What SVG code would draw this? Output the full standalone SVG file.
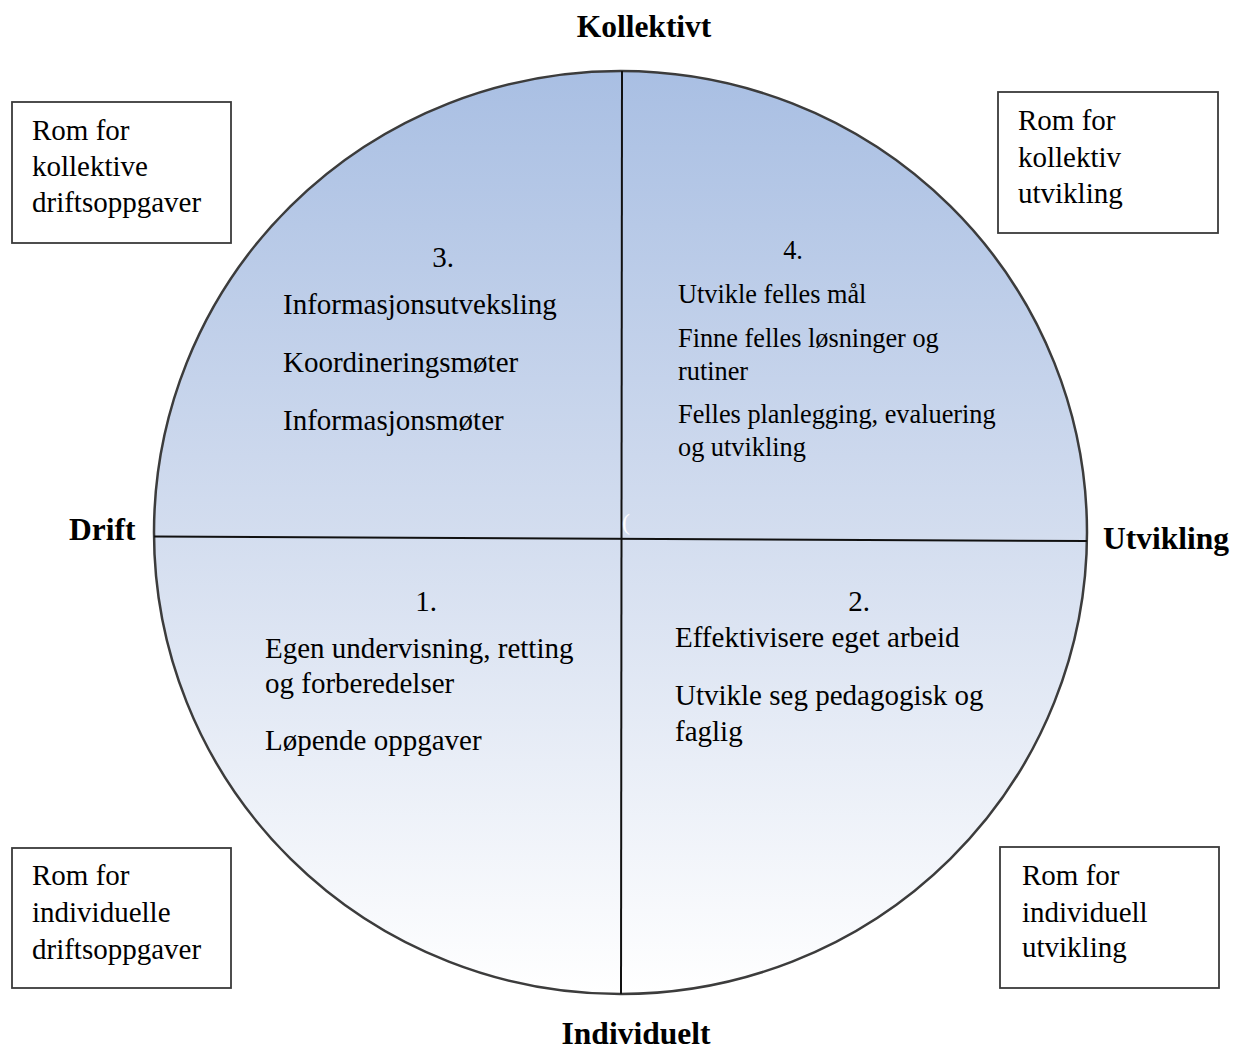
<svg xmlns="http://www.w3.org/2000/svg" width="1235" height="1051" viewBox="0 0 1235 1051">
<style>
text{font-family:"Liberation Serif","Times New Roman",serif;fill:#000}
.t{font-size:29px}
.s{font-size:26.3px}
.b{font-size:31.5px;font-weight:bold}
.box{fill:#fff;stroke:#3a3a3a;stroke-width:1.8}
.ax{stroke:#111;stroke-width:2;fill:none}
</style>
<defs>
<linearGradient id="g" x1="0" y1="0" x2="0" y2="1">
<stop offset="0" stop-color="#a9bfe3"/>
<stop offset="0.5" stop-color="#d3ddef"/>
<stop offset="1" stop-color="#ffffff"/>
</linearGradient>
</defs>
<rect width="1235" height="1051" fill="#fff"/>
<g id="circle">
<ellipse cx="620.5" cy="532.5" rx="466.5" ry="461.5" fill="url(#g)" stroke="#3c3c3c" stroke-width="2.5"/>
</g>
<g id="connectors">
<line class="ax" x1="622" y1="71" x2="621" y2="994"/>
<line class="ax" x1="154" y1="536.5" x2="1087" y2="541"/>
</g>
<g id="axis-labels">
<text class="b" text-anchor="middle" x="644" y="37">Kollektivt</text>
<text class="b" text-anchor="middle" x="636" y="1044">Individuelt</text>
<text class="b" x="69" y="540">Drift</text>
<text class="b" x="1103" y="549">Utvikling</text>
</g>
<g id="q3">
<text class="t" text-anchor="middle" x="443" y="267">3.</text>
<text class="t" x="283" y="314">Informasjonsutveksling</text>
<text class="t" x="283" y="372">Koordineringsmøter</text>
<text class="t" x="283" y="430">Informasjonsmøter</text>
</g>
<g id="q4">
<text class="s" text-anchor="middle" x="793" y="259">4.</text>
<text class="s" x="678" y="303">Utvikle felles mål</text>
<text class="s" x="678" y="347">Finne felles løsninger og</text>
<text class="s" x="678" y="380">rutiner</text>
<text class="s" x="678" y="423">Felles planlegging, evaluering</text>
<text class="s" x="678" y="456">og utvikling</text>
</g>
<g id="q1">
<text class="t" text-anchor="middle" x="426" y="611">1.</text>
<text class="t" x="265" y="658">Egen undervisning, retting</text>
<text class="t" x="265" y="693">og forberedelser</text>
<text class="t" x="265" y="750">Løpende oppgaver</text>
</g>
<g id="q2">
<text class="t" text-anchor="middle" x="859" y="611">2.</text>
<text class="t" x="675" y="647">Effektivisere eget arbeid</text>
<text class="t" x="675" y="705">Utvikle seg pedagogisk og</text>
<text class="t" x="675" y="741">faglig</text>
</g>
<text x="622" y="530" style="font-size:24px;fill:#fff">(</text>
<g id="box-tl">
<rect class="box" x="12" y="102" width="219" height="141"/>
<text class="t" x="32" y="140">Rom for</text>
<text class="t" x="32" y="176">kollektive</text>
<text class="t" x="32" y="212">driftsoppgaver</text>
</g>
<g id="box-tr">
<rect class="box" x="998" y="92" width="220" height="141"/>
<text class="t" x="1018" y="130">Rom for</text>
<text class="t" x="1018" y="167">kollektiv</text>
<text class="t" x="1018" y="203">utvikling</text>
</g>
<g id="box-bl">
<rect class="box" x="12" y="848" width="219" height="140"/>
<text class="t" x="32" y="885">Rom for</text>
<text class="t" x="32" y="922">individuelle</text>
<text class="t" x="32" y="959">driftsoppgaver</text>
</g>
<g id="box-br">
<rect class="box" x="1000" y="847" width="219" height="141"/>
<text class="t" x="1022" y="885">Rom for</text>
<text class="t" x="1022" y="922">individuell</text>
<text class="t" x="1022" y="957">utvikling</text>
</g>
</svg>
